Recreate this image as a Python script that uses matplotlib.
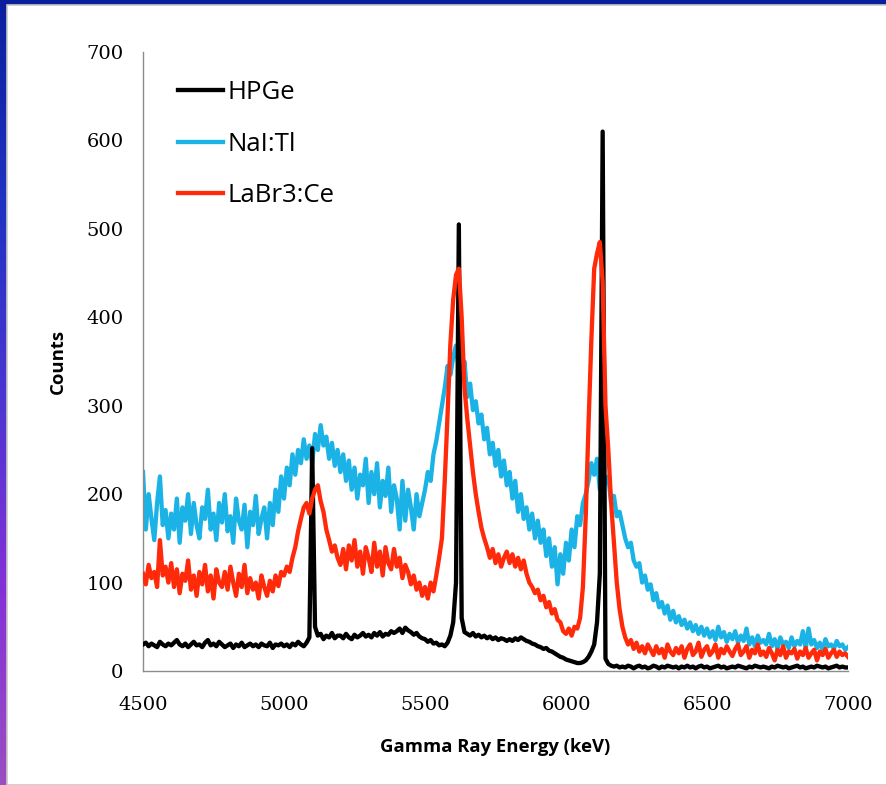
import numpy as np
import matplotlib
matplotlib.use("Agg")
import matplotlib.pyplot as plt
from matplotlib.colors import LinearSegmentedColormap
from matplotlib.patches import Rectangle

# energy channels, 10 keV apart
energy = np.arange(4500, 7001, 10)

hpge = [
    30, 32, 28, 31, 29, 27, 33, 30, 28, 31,
    29, 32, 35, 30, 28, 31, 27, 30, 33, 29,
    30, 27, 32, 35, 29, 31, 28, 33, 30, 27,
    29, 31, 26, 30, 28, 32, 27, 29, 31, 28,
    30, 27, 31, 29, 28, 32, 26, 30, 29, 31,
    28, 30, 27, 31, 29, 33, 30, 28, 32, 38,
    252, 50, 40, 42, 36, 40, 38, 43, 37, 40,
    40, 37, 42, 38, 36, 41, 38, 40, 43, 39,
    41, 38, 43, 40, 44, 39, 42, 41, 45, 43,
    45, 48, 43, 49, 46, 44, 41, 43, 39, 37,
    36, 33, 35, 31, 32, 29, 30, 28, 32, 40,
    55, 100, 505, 60, 44, 42, 40, 43, 39, 41,
    38, 40, 37, 39, 36, 38, 35, 37, 36, 34,
    36, 34, 37, 35, 38, 36, 34, 33, 31, 30,
    28, 27, 25, 26, 23, 22, 20, 18, 16, 15,
    13, 12, 11, 10, 9, 9, 10, 12, 16, 22,
    30, 55, 110, 610, 14, 8, 6, 5, 6, 4,
    5, 4, 6, 5, 3, 5, 6, 4, 5, 3,
    4, 6, 5, 3, 5, 4, 6, 5, 4, 5,
    3, 5, 4, 6, 4, 5, 3, 5, 6, 4,
    5, 3, 4, 5, 6, 4, 5, 3, 4, 5,
    4, 6, 5, 4, 3, 5, 4, 6, 5, 4,
    5, 4, 3, 5, 4, 6, 5, 4, 5, 3,
    4, 5, 6, 4, 5, 3, 4, 5, 4, 6,
    5, 4, 5, 3, 4, 5, 6, 4, 5, 4,
    4,
]

nai = [
    225, 160, 200, 172, 148, 190, 220, 165, 182, 150,
    178, 160, 195, 145, 185, 170, 200, 155, 190, 165,
    150, 185, 172, 205, 160, 178, 148, 190, 168, 200,
    158, 175, 145, 195, 170, 160, 188, 140, 180, 165,
    198, 155, 172, 185, 150, 190, 165, 205, 180, 220,
    195, 230, 210, 245, 222, 250, 235, 262, 240, 255,
    235, 268, 250, 278, 255, 265, 240, 258, 232, 250,
    225, 245, 215, 238, 205, 230, 195, 222, 210, 240,
    190, 225, 200, 235, 185, 215, 198, 230, 180, 210,
    195, 160, 215, 170, 205, 185, 160, 200, 175, 190,
    205, 225, 215, 245, 260, 280, 300, 320, 345, 335,
    355, 368, 340, 330, 350, 310, 325, 295, 305, 280,
    290, 262, 275, 245, 258, 232, 250, 220, 238, 210,
    225, 195, 215, 180, 200, 172, 185, 160, 178, 150,
    170, 145, 160, 130, 150, 118, 140, 98, 132, 110,
    145, 125, 160, 140, 175, 165, 190, 200, 215, 235,
    222, 240, 205, 228, 212, 220, 190, 198, 175, 180,
    165, 150, 140, 145, 125, 118, 122, 100, 108, 92,
    98, 80, 88, 72, 78, 65, 74, 58, 68, 55,
    62, 52, 58, 48, 55, 45, 52, 42, 50, 40,
    48, 38, 45, 35, 50, 38, 44, 33, 42, 36,
    45, 32, 40, 34, 48, 30, 38, 28, 40, 32,
    35, 30, 42, 28, 36, 25, 38, 30, 33, 26,
    38, 28, 34, 30, 45, 25, 48, 30, 35, 26,
    32, 24, 36, 28, 30, 25, 34, 28, 30, 24,
    27,
]

labr = [
    110, 98, 120, 105, 112, 95, 148, 108, 118, 100,
    122, 95, 115, 88, 110, 102, 125, 92, 108, 85,
    112, 98, 120, 90, 108, 82, 115, 100, 95, 112,
    92, 118, 100, 85, 110, 95, 120, 88, 105, 92,
    100, 82, 108, 95, 85, 102, 90, 108, 96, 112,
    108, 118, 112, 128, 140, 158, 172, 185, 190, 178,
    195, 205, 210, 192, 180, 160, 148, 135, 142, 128,
    120, 138, 115, 142, 125, 148, 118, 135, 110, 140,
    128, 112, 145, 118, 135, 108, 140, 122, 115, 138,
    118, 128, 105, 120, 112, 98, 108, 92, 100, 85,
    95, 82, 100, 90, 108, 128, 150, 215, 290, 370,
    420, 448, 455, 400, 320, 285, 255, 225, 200, 180,
    162, 150, 140, 128, 138, 122, 132, 118, 128, 135,
    122, 132, 118, 128, 115, 125, 110, 100, 95, 88,
    92, 80, 85, 72, 78, 65, 70, 58, 55, 45,
    42, 48, 40, 50, 48, 60, 95, 175, 280, 375,
    455, 472, 485, 440, 300, 250, 190, 145, 100, 70,
    50, 38, 30, 35, 25, 32, 22, 28, 20, 30,
    24, 18, 28, 20, 25, 15, 30, 22, 18, 26,
    20, 28, 15, 25, 30, 18, 22, 32, 16, 24,
    28, 18, 22, 30, 15, 25, 20, 28, 22, 17,
    25, 30, 18, 22, 28, 15, 24, 20, 30, 18,
    22, 16, 26, 20, 12, 24, 18, 28, 15, 22,
    20, 25, 14, 22, 18, 26, 15, 20, 24, 12,
    22, 18, 25, 15, 20, 24, 16, 22, 18, 20,
    16,
]

series_names = ["HPGe", "NaI:Tl", "LaBr3:Ce"]
colors = ["#000000", "#1BB3E6", "#FF2A0A"]

W, H = 886, 785
fig = plt.figure(figsize=(W / 100, H / 100), dpi=100)

# slide background: blue -> purple gradient with white panel
bg = fig.add_axes([0, 0, 1, 1])
grad = LinearSegmentedColormap.from_list(
    "slide", ["#0B1F9E", "#1E32C0", "#4A36D0", "#8530D8", "#9A4EC0"])
bg.imshow(np.linspace(0, 1, 256).reshape(-1, 1), aspect="auto", cmap=grad,
          extent=[0, 1, 0, 1])
bg.add_patch(Rectangle((7 / W, 0), 1, 1 - 5 / H, facecolor="white",
                       edgecolor="#C8C8C8", linewidth=1.2))
bg.set_xlim(0, 1)
bg.set_ylim(0, 1)
bg.axis("off")

ax = fig.add_axes([143 / W, 1 - 671 / H, 705 / W, 619 / H])
ax.set_facecolor("none")

lw = 3.1
ax.plot(energy, nai, color=colors[1], lw=lw, label=series_names[1], zorder=2)
ax.plot(energy, hpge, color=colors[0], lw=lw, label=series_names[0], zorder=3)
ax.plot(energy, labr, color=colors[2], lw=lw, label=series_names[2], zorder=4)

ax.set_xlim(4500, 7000)
ax.set_ylim(0, 700)
ax.set_xticks([4500, 5000, 5500, 6000, 6500, 7000])
ax.set_yticks(range(0, 701, 100))

for s in ["top", "right"]:
    ax.spines[s].set_visible(False)
for s in ["left", "bottom"]:
    ax.spines[s].set_color("#8C8C8C")
    ax.spines[s].set_linewidth(1.0)

ax.tick_params(axis="both", length=0, labelsize=14)
ax.tick_params(axis="x", pad=18)
ax.tick_params(axis="y", pad=14)
for lab in ax.get_xticklabels() + ax.get_yticklabels():
    lab.set_fontfamily("DejaVu Serif")

ax.set_xlabel("Gamma Ray Energy (keV)", fontsize=13.3, fontweight="bold",
              family="Open Sans", labelpad=17)
ax.set_ylabel("Counts", fontsize=13.3, fontweight="bold",
              family="Open Sans", labelpad=14)

handles, labels = ax.get_legend_handles_labels()
order = [1, 0, 2]
leg = ax.legend([handles[i] for i in order], [labels[i] for i in order],
                loc="upper left", bbox_to_anchor=(0.05, 0.955),
                frameon=False, borderpad=0, borderaxespad=0,
                handlelength=1.75, handletextpad=0.15, labelspacing=1.04,
                prop={"family": "Open Sans", "size": 18.5})

fig.savefig("out.png", dpi=100)
